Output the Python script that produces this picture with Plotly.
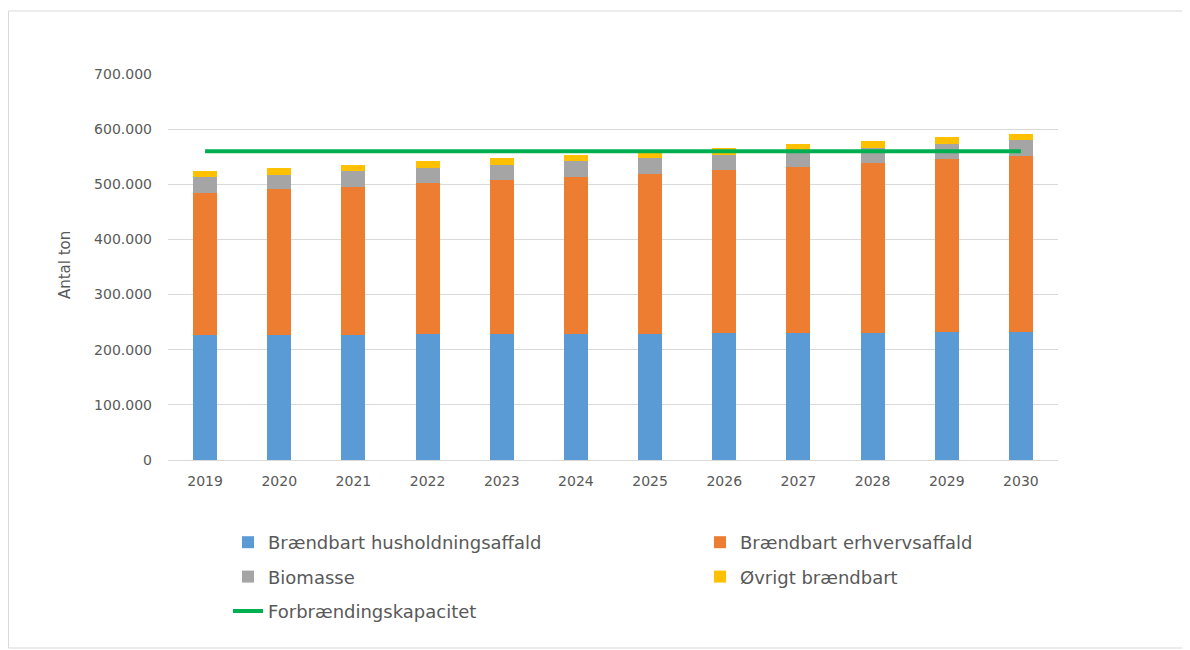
import plotly.graph_objects as go

years = ["2019", "2020", "2021", "2022", "2023", "2024", "2025", "2026", "2027", "2028", "2029", "2030"]
husholdning = [226700, 226700, 226700, 229000, 229000, 229000, 229000, 230300, 230300, 230300, 232100, 232100]
erhverv = [257500, 264200, 268400, 272700, 279400, 284200, 290300, 295700, 301700, 308300, 313200, 319800]
biomasse = [29000, 26600, 29000, 27300, 27200, 29000, 29000, 27800, 28000, 27200, 28300, 28400]
oevrigt = [11000, 12700, 11500, 12600, 12700, 11600, 9700, 11500, 12500, 12700, 12200, 10900]
kapacitet = [560000] * 12
y_title = "Antal ton"

series = [
    ("Brændbart husholdningsaffald", husholdning, "#5B9BD5", "legend"),
    ("Brændbart erhvervsaffald", erhverv, "#ED7D31", "legend2"),
    ("Biomasse", biomasse, "#A5A5A5", "legend"),
    ("Øvrigt brændbart", oevrigt, "#FFC000", "legend2"),
]

FONT = "DejaVu Sans"
TXT = "#595959"
W, H = 1182, 642
L, T, PW, PH = 160, 66, 890, 386

fig = go.Figure()
for name, vals, col, lg in series:
    fig.add_trace(go.Bar(x=years, y=vals, name=name, legend=lg, legendgroup=name,
                         marker=dict(color=col, line=dict(width=0)), width=0.324))
fig.add_trace(go.Scatter(x=years, y=kapacitet, name="Forbrændingskapacitet", mode="lines",
                         legend="legend", legendgroup="kap",
                         line=dict(color="#00B050", width=4)))

legend_common = dict(orientation="v", xref="container", yref="container",
                     xanchor="left", yanchor="top", tracegroupgap=8,
                     font=dict(size=18, color=TXT, family=FONT), traceorder="grouped")

fig.update_layout(
    width=W, height=H,
    barmode="stack",
    separators=",.",
    plot_bgcolor="white", paper_bgcolor="white",
    margin=dict(l=L, r=W - L - PW, t=T, b=H - T - PH, autoexpand=False),
    font=dict(family=FONT, color=TXT, size=14),
    yaxis=dict(range=[0, 700000], dtick=100000, tickformat=",d", showgrid=True,
               gridcolor="#D9D9D9", gridwidth=1, zeroline=False, showline=False,
               ticks="", ticklabelstandoff=15),
    xaxis=dict(showline=True, linecolor="#D9D9D9", linewidth=1, ticks="", showgrid=False,
               tickfont=dict(size=14), ticklabelstandoff=8),
    legend=dict(x=220 / W, y=1 - 516 / H, **legend_common),
    legend2=dict(x=692 / W, y=1 - 516 / H, **legend_common),
    annotations=[dict(text=y_title, xref="paper", yref="paper", x=(57 - L) / PW, y=0.505,
                      xanchor="center", yanchor="middle", textangle=-90, showarrow=False,
                      font=dict(size=15, color=TXT, family=FONT))],
    shapes=[dict(type="rect", xref="paper", yref="paper",
                 x0=(0.5 - L) / PW, x1=(W + 10 - L) / PW,
                 y0=(T + PH - 640) / PH, y1=(T + PH - 3) / PH,
                 line=dict(color="#D9D9D9", width=1), layer="below")],
)

fig.write_html("out.html")
